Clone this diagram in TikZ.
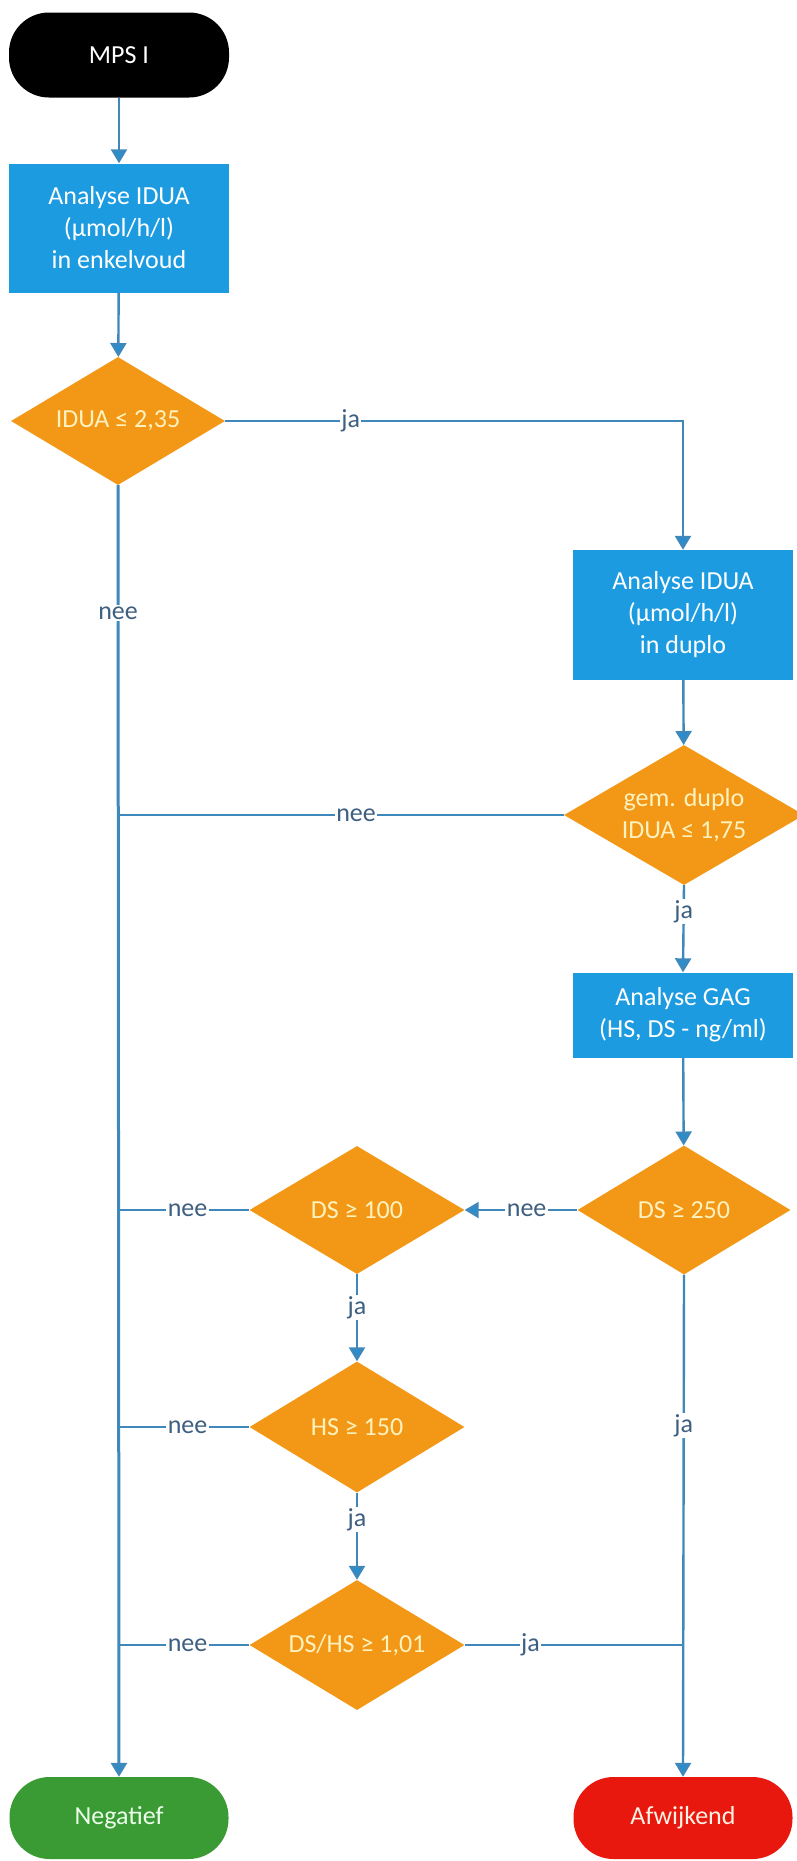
\documentclass[tikz,border=0pt]{standalone}
\usepackage{fontspec}
\setmainfont{Carlito}
\usetikzlibrary{shapes.geometric,arrows.meta}

\definecolor{boxblue}{RGB}{29,155,224}
\definecolor{decorange}{RGB}{242,152,22}
\definecolor{linkblue}{RGB}{62,136,187}
\definecolor{tipblue}{RGB}{40,142,206}
\definecolor{lbltext}{RGB}{62,95,128}
\definecolor{okgreen}{RGB}{58,154,52}
\definecolor{badred}{RGB}{232,24,14}
\definecolor{paleyellow}{RGB}{255,242,190}

\tikzset{
  txt/.style={font=\fontsize{26}{32}\selectfont, align=center},
  terminal/.style={txt, rounded corners=40pt, minimum width=219pt, minimum height=82pt, inner sep=0pt},
  procbox/.style={txt, fill=boxblue, text=white, minimum width=220pt, inner sep=0pt},
  decision/.style={txt, diamond, fill=decorange, text=paleyellow, inner sep=0pt},
  conn/.style={draw=linkblue, line width=2.4pt},
  flow/.style={conn, -{Triangle[length=14pt,width=16pt,fill=tipblue]}},
  lbl/.style={font=\fontsize{26}{30}\selectfont, text=lbltext, fill=white, inner sep=1.5pt}
}

\begin{document}
\begin{tikzpicture}[x=1pt,y=-1pt]
\useasboundingbox (0,0) rectangle (797,1861);

% start and process steps
\node[terminal, fill=black, text=white, minimum height=85pt, minimum width=220pt] (mps) at (119,55) {MPS I};
\node[procbox, minimum height=129pt] (ana1) at (119,228) {Analyse IDUA\\(µmol/h/l)\\in enkelvoud};
\node[decision, minimum width=214pt, minimum height=128pt, shape aspect=1.67] (d1) at (118,421) {IDUA ≤ 2,35};
\node[procbox, minimum height=130pt] (ana2) at (683,615) {Analyse IDUA\\(µmol/h/l)\\in duplo};
\node[decision, minimum width=240pt, minimum height=140pt, shape aspect=1.71] (d2) at (684,815) {gem. duplo\\IDUA ≤ 1,75};
\node[procbox, minimum height=85pt] (gag) at (683,1015) {Analyse GAG\\(HS, DS - ng/ml)};

% GAG decisions
\node[decision, minimum width=213pt, minimum height=129pt, shape aspect=1.65] (d250) at (684,1210) {DS ≥ 250};
\node[decision, minimum width=215pt, minimum height=128pt, shape aspect=1.68] (d100) at (357,1210) {DS ≥ 100};
\node[decision, minimum width=215pt, minimum height=131pt, shape aspect=1.64] (d150) at (357,1427) {HS ≥ 150};
\node[decision, minimum width=215pt, minimum height=130pt, shape aspect=1.65] (d101) at (357,1645) {DS/HS ≥ 1,01};

% outcomes
\node[terminal, fill=okgreen, text=green!8!white] (neg) at (119,1818) {Negatief};
\node[terminal, fill=badred, text=orange!10!white] (afw) at (683,1818) {Afwijkend};

% join points on the two vertical lines
\coordinate (jd2) at (d1.south |- d2.west);
\coordinate (jd100) at (d1.south |- d100.west);
\coordinate (jd150) at (d1.south |- d150.west);
\coordinate (jd101) at (d1.south |- d101.west);
\coordinate (jright) at (d250.south |- d101.east);

% connectors
\draw[flow] (mps) -- (ana1);
\draw[flow] (ana1) -- (d1);
\draw[flow] (d1.east) -| node[lbl, pos=0.137] {ja} (ana2.north);
\draw[flow, line width=3pt] (d1.south) -- node[lbl, pos=0.099] {nee} (neg.north);
\draw[flow] (ana2) -- (d2);
\draw[conn] (d2.west) -- node[lbl, pos=0.466] {nee} (jd2);
\draw[flow] (d2.south) -- node[lbl, pos=0.3] {ja} (gag.north);
\draw[flow] (gag) -- (d250);
\draw[flow] (d250.west) -- node[lbl, pos=0.45] {nee} (d100.east);
\draw[conn] (d100.west) -- node[lbl, pos=0.47] {nee} (jd100);
\draw[flow] (d100.south) -- node[lbl, pos=0.38] {ja} (d150.north);
\draw[conn] (d150.west) -- node[lbl, pos=0.47] {nee} (jd150);
\draw[flow] (d150.south) -- node[lbl, pos=0.31] {ja} (d101.north);
\draw[conn] (d101.west) -- node[lbl, pos=0.47] {nee} (jd101);
\draw[conn] (d101.east) -- node[lbl, pos=0.3] {ja} (jright);
\draw[flow] (d250.south) -- node[lbl, pos=0.30] {ja} (afw.north);
\end{tikzpicture}
\end{document}
